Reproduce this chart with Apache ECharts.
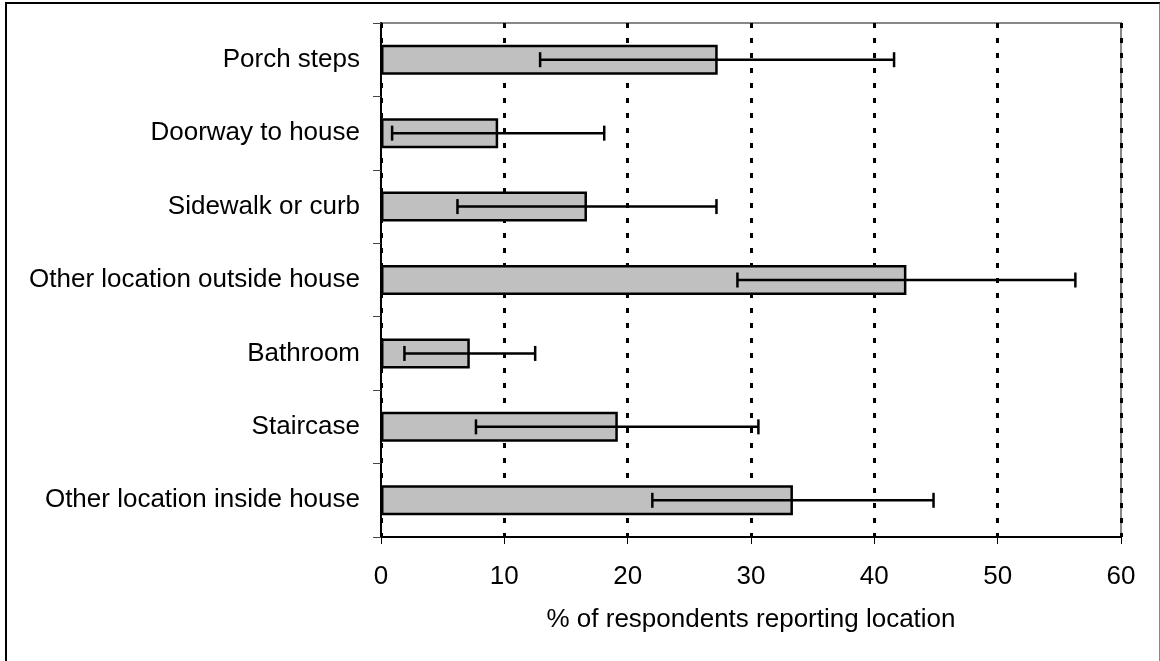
<!DOCTYPE html>
<html>
<head>
<meta charset="utf-8">
<script src="https://cdn.jsdelivr.net/npm/echarts@6/dist/echarts.min.js"></script>
<style>
  html, body { margin: 0; padding: 0; background: #fff; }
  #wrap { position: relative; width: 1160px; height: 661px; overflow: hidden; }
  #chart { position: absolute; left: 0; top: 0; width: 1160px; height: 661px; }
  #frame {
    position: absolute; left: 5px; top: 2px; width: 1152px; height: 670px;
    border-left: 2px solid #000; border-top: 2px solid #000; border-right: 2px solid #888;
    pointer-events: none;
  }
</style>
</head>
<body>
<div id="wrap">
  <div id="chart"></div>
  <div id="frame"></div>
</div>
<script>
// locations (top to bottom)
const categories = [
  'Porch steps',
  'Doorway to house',
  'Sidewalk or curb',
  'Other location outside house',
  'Bathroom',
  'Staircase',
  'Other location inside house'
]
// % of respondents
const percent = [27.3, 9.5, 16.7, 42.6, 7.2, 19.2, 33.4]
// error bar ends
const lower = [12.9, 0.9, 6.2, 28.9, 1.9, 7.7, 22.0]
const upper = [41.6, 18.1, 27.2, 56.3, 12.5, 30.6, 44.8]
const xTicks = [0, 10, 20, 30, 40, 50, 60]

const font = 'Liberation Sans, Arial, sans-serif'

const errData = categories.map((c, i) => [i, lower[i], upper[i]])

const chart = echarts.init(document.getElementById('chart'))
chart.setOption({
  animation: false,
  backgroundColor: '#fff',
  grid: {
    left: 381,
    right: 39,
    top: 23,
    bottom: 124,
    show: true,
    borderColor: '#888',
    borderWidth: 2,
    backgroundColor: '#fff'
  },
  xAxis: {
    type: 'value',
    min: xTicks[0],
    max: xTicks[xTicks.length - 1],
    interval: 10,
    name: '% of respondents reporting location',
    nameLocation: 'middle',
    nameGap: 70,
    nameTextStyle: { fontFamily: font, fontSize: 26, color: '#000' },
    axisLine: { show: true, lineStyle: { color: '#000', width: 2 } },
    axisTick: { show: true, length: 7, lineStyle: { color: '#000', width: 1 } },
    axisLabel: { fontFamily: font, fontSize: 26, color: '#000', margin: 27 },
    splitLine: {
      show: true,
      lineStyle: { color: '#000', width: 3, type: [5, 10] }
    }
  },
  yAxis: {
    type: 'category',
    data: categories,
    inverse: true,
    axisLine: { show: true, lineStyle: { color: '#000', width: 2 } },
    axisTick: { show: true, length: 8, lineStyle: { color: '#444', width: 1 } },
    axisLabel: { fontFamily: font, fontSize: 26, color: '#000', margin: 21 },
    splitLine: { show: false }
  },
  series: [
    {
      type: 'bar',
      data: percent,
      barWidth: 30,
      itemStyle: { color: '#c0c0c0', borderColor: '#000', borderWidth: 2.5 },
      z: 2
    },
    {
      type: 'custom',
      data: errData,
      z: 3,
      renderItem: function (params, api) {
        const idx = api.value(0)
        const lo = api.coord([api.value(1), idx])
        const hi = api.coord([api.value(2), idx])
        const h = 7.5
        const style = { stroke: '#000', lineWidth: 2.5 }
        return {
          type: 'group',
          children: [
            { type: 'line', shape: { x1: lo[0], y1: lo[1], x2: hi[0], y2: hi[1] }, style: style },
            { type: 'line', shape: { x1: lo[0], y1: lo[1] - h, x2: lo[0], y2: lo[1] + h }, style: style },
            { type: 'line', shape: { x1: hi[0], y1: hi[1] - h, x2: hi[0], y2: hi[1] + h }, style: style }
          ]
        }
      },
      encode: { x: [1, 2], y: 0 }
    }
  ]
})
</script>
</body>
</html>
